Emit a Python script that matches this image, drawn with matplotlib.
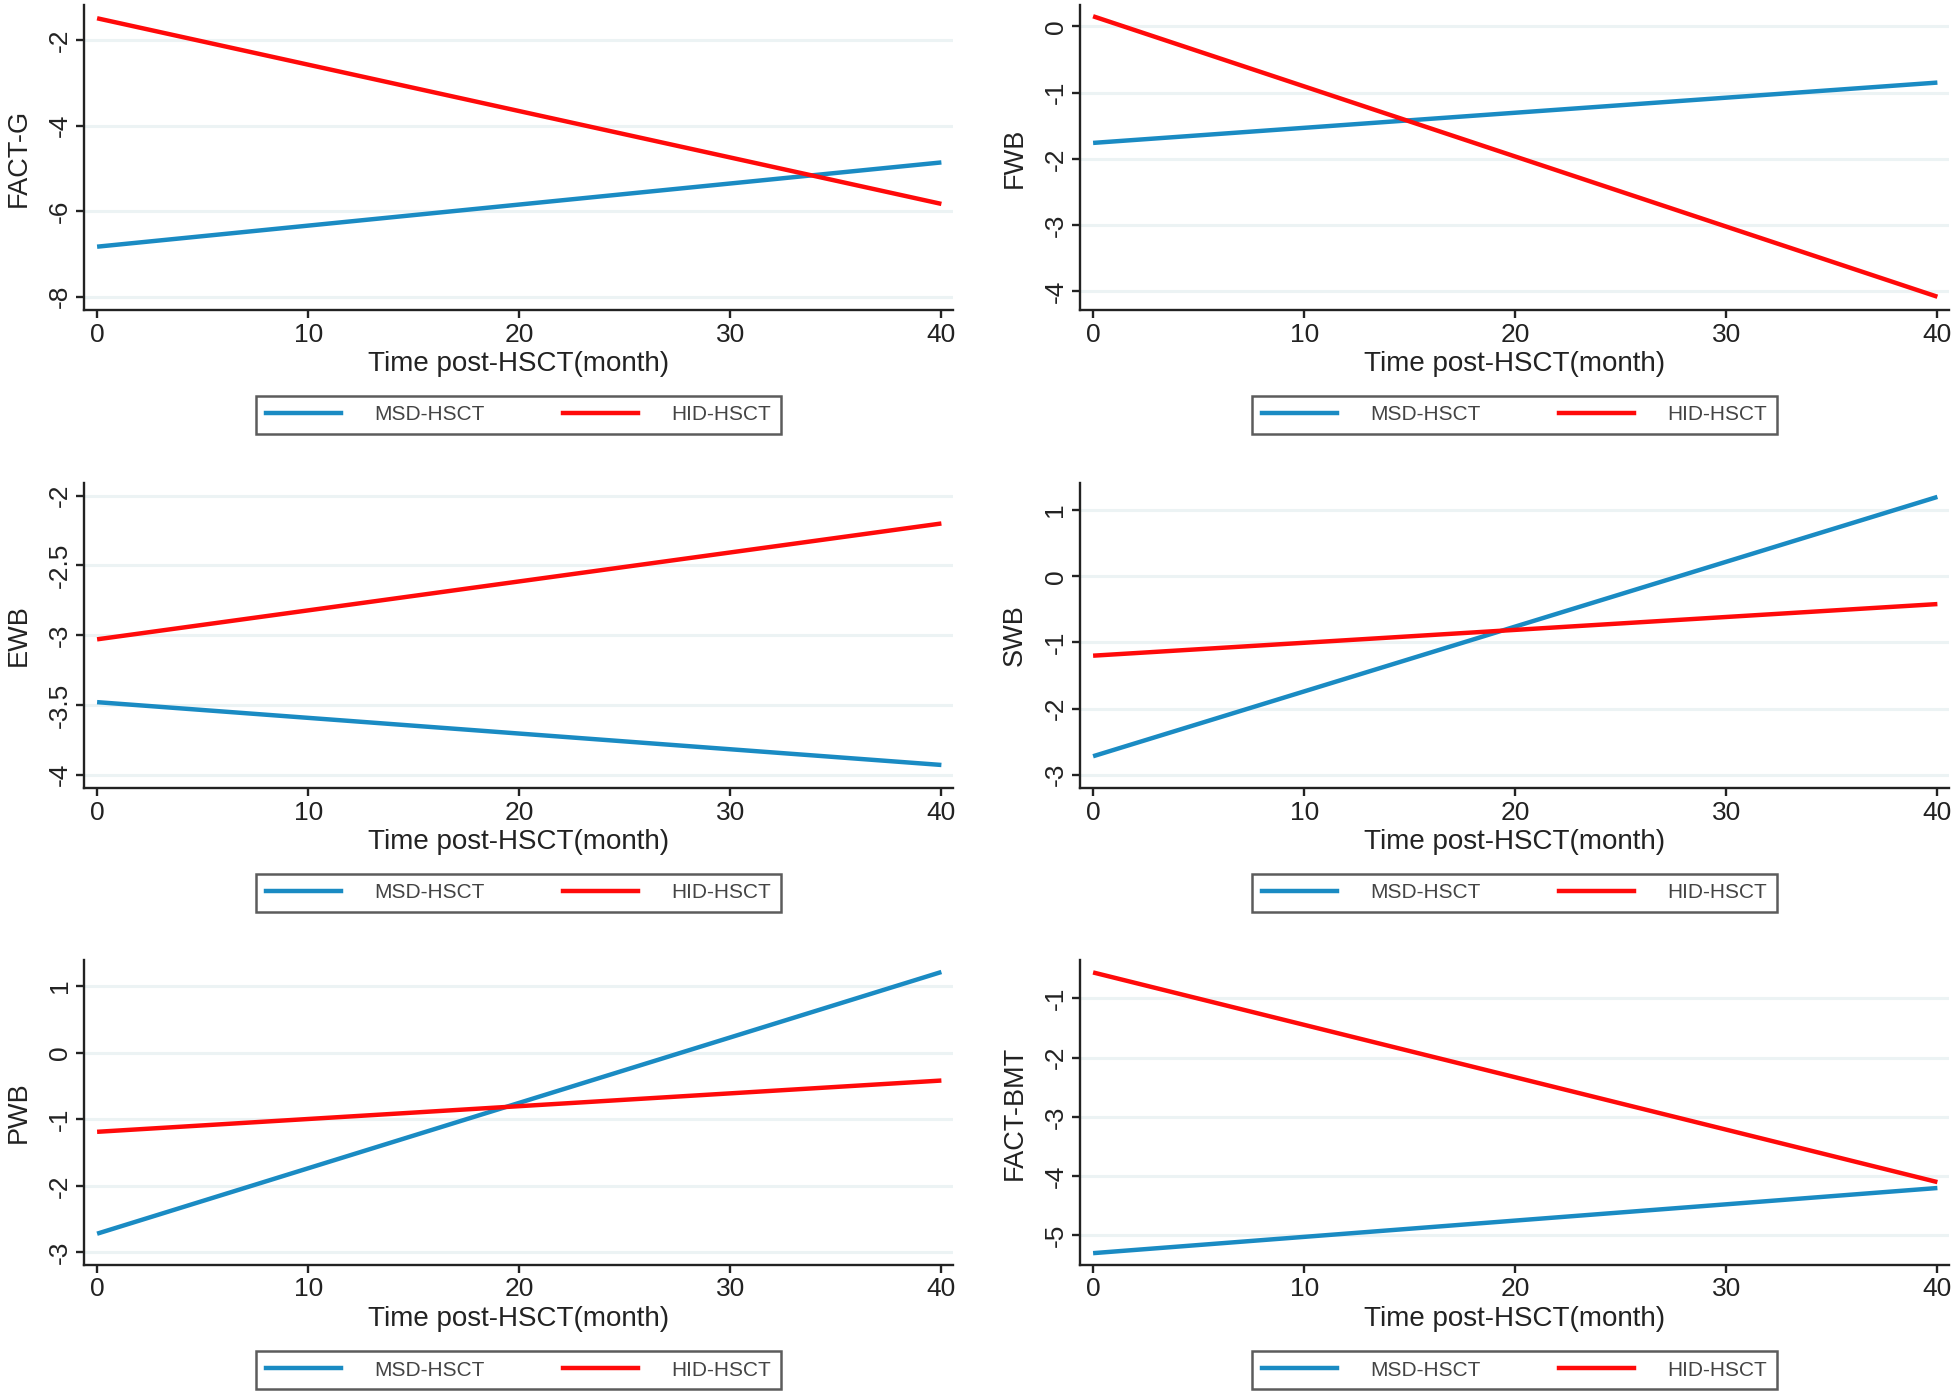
import matplotlib
matplotlib.use("Agg")
import matplotlib.pyplot as plt
from matplotlib.lines import Line2D

plt.rcParams['font.family'] = ['Liberation Sans', 'DejaVu Sans']
plt.rcParams['axes.unicode_minus'] = False

# ---------------- data ----------------
months = [0, 40]
x_ticks = [0, 10, 20, 30, 40]
x_label = "Time post-HSCT(month)"
series_names = ["MSD-HSCT", "HID-HSCT"]

panel_labels = ["FACT-G", "FWB", "EWB", "SWB", "PWB", "FACT-BMT"]

fact_g_msd = [-6.83, -4.86]
fact_g_hid = [-1.49, -5.83]
fwb_msd = [-1.76, -0.85]
fwb_hid = [0.15, -4.08]
ewb_msd = [-3.48, -3.93]
ewb_hid = [-3.03, -2.20]
swb_msd = [-2.72, 1.20]
swb_hid = [-1.20, -0.42]
pwb_msd = [-2.72, 1.21]
pwb_hid = [-1.19, -0.42]
bmt_msd = [-5.30, -4.20]
bmt_hid = [-0.56, -4.10]

fact_g_ticks = [-8, -6, -4, -2]
fwb_ticks = [-4, -3, -2, -1, 0]
ewb_ticks = [-4, -3.5, -3, -2.5, -2]
swb_ticks = [-3, -2, -1, 0, 1]
pwb_ticks = [-3, -2, -1, 0, 1]
bmt_ticks = [-5, -4, -3, -2, -1]

fact_g_ylim = (-8.31, -1.18)
fwb_ylim = (-4.28, 0.32)
ewb_ylim = (-4.095, -1.91)
swb_ylim = (-3.20, 1.41)
pwb_ylim = (-3.19, 1.39)
bmt_ylim = (-5.50, -0.35)

msd_series = [fact_g_msd, fwb_msd, ewb_msd, swb_msd, pwb_msd, bmt_msd]
hid_series = [fact_g_hid, fwb_hid, ewb_hid, swb_hid, pwb_hid, bmt_hid]
tick_sets = [fact_g_ticks, fwb_ticks, ewb_ticks, swb_ticks, pwb_ticks, bmt_ticks]
ylims = [fact_g_ylim, fwb_ylim, ewb_ylim, swb_ylim, pwb_ylim, bmt_ylim]

# ---------------- style ----------------
W, H = 1960, 1396
BLUE = '#1a8bc3'
RED = '#ff0a0a'
GRID = '#ecf3f4'
DARK = '#222222'

fig = plt.figure(figsize=(W / 100, H / 100), dpi=100)

col_left = [84, 1080]
ax_w = 869
row_top = [5, 483, 960]
row_bottom = [310, 788, 1265]
legend_cy = [415, 893, 1370]

for i in range(6):
    r, c = divmod(i, 2)
    l = col_left[c]
    t, b = row_top[r], row_bottom[r]
    ax = fig.add_axes([l / W, 1 - b / H, ax_w / W, (b - t) / H])
    ax.set_xlim(-0.62, 40.55)
    ax.set_ylim(*ylims[i])
    ax.set_yticks(tick_sets[i])
    ax.set_yticklabels([f"{v:g}" for v in tick_sets[i]])
    ax.set_xticks(x_ticks)
    ax.set_xticklabels([str(v) for v in x_ticks])
    ax.grid(axis='y', color=GRID, linewidth=2.2)
    ax.set_axisbelow(True)
    for s in ['top', 'right']:
        ax.spines[s].set_visible(False)
    for s in ['left', 'bottom']:
        ax.spines[s].set_color(DARK)
        ax.spines[s].set_linewidth(1.7)
    ax.tick_params(axis='both', direction='out', length=6, width=1.7,
                   color=DARK, labelsize=19, labelcolor=DARK, pad=3)
    ax.tick_params(axis='y', labelrotation=90)
    for lab in ax.get_yticklabels():
        lab.set_va('center')

    ax.plot(months, msd_series[i], color=BLUE, linewidth=3.2,
            solid_capstyle='butt', label=series_names[0])
    ax.plot(months, hid_series[i], color=RED, linewidth=3.2,
            solid_capstyle='butt', label=series_names[1])

    ax.set_xlabel(x_label, fontsize=20, color=DARK, labelpad=3)
    ax.set_ylabel(panel_labels[i], fontsize=19.5, color=DARK)
    ax.yaxis.set_label_coords(-0.06, 0.5)

    cx = (l + ax_w / 2) / W
    cy = 1 - legend_cy[r] / H
    handles = [Line2D([], [], color=BLUE, linewidth=3.2),
               Line2D([], [], color=RED, linewidth=3.2)]
    leg = fig.legend(handles, series_names, loc='center',
                     bbox_to_anchor=(cx, cy), bbox_transform=fig.transFigure,
                     ncol=2, fontsize=15, frameon=True, fancybox=False,
                     handlelength=3.6, handletextpad=1.6, columnspacing=3.8,
                     borderpad=0.45, edgecolor='#333333', labelcolor='#444444')
    leg.get_frame().set_linewidth(1.8)

fig.savefig('out.png', dpi=100, facecolor='white')
